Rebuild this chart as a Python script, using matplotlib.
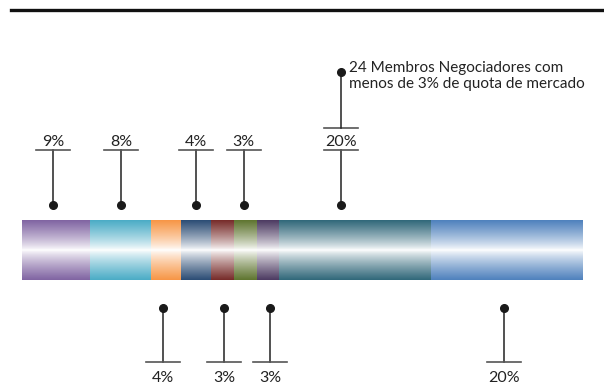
import numpy as np
import matplotlib
matplotlib.use("Agg")
import matplotlib.pyplot as plt
from matplotlib.colors import to_rgb
from matplotlib.lines import Line2D

# market share per segment (left to right)
shares = [9, 8, 4, 4, 3, 3, 3, 20, 20]
labels = ["9%", "8%", "4%", "4%", "3%", "3%", "3%", "20%", "20%"]
colors = ["#8064A2", "#4BACC6", "#F79646", "#2C4D75", "#772C2A",
          "#5F7530", "#4D3B62", "#31687A", "#4F81BD"]
side = ["top", "top", "bottom", "top", "bottom", "top", "bottom", "top", "bottom"]
shift = [-0.4, 0.1, -0.4, 0.0, 0.2, -0.2, 0.3, -1.9, -0.3]  # nudge of the leader from centre
note = "24 Membros Negociadores com\nmenos de 3% de quota de mercado"

plt.rcParams['font.family'] = ['Lato', 'DejaVu Sans']

W, H = 604, 385
fig = plt.figure(figsize=(W / 100, H / 100), dpi=100)
total = sum(shares)
px = 560 / total  # pixels per percent
ax = fig.add_axes([0, 0, 1, 1])
ax.set_xlim(-22 / px, total + (W - 582) / px)
ax.set_ylim(H, 0)
ax.axis("off")

# rule at the top
fig.add_artist(Line2D([11 / W, 1], [1 - 9.5 / H] * 2, color="#111111", lw=2.4))

# gradient bar
ytop, ybot = 220, 280
n = 121
t = np.abs(np.linspace(-1, 1, n))
t = t ** 0.8
left = 0
for s, c, lab, sd, dx in zip(shares, colors, labels, side, shift):
    rgb = np.array(to_rgb(c))
    grad = t[:, None] * rgb[None, :] + (1 - t[:, None]) * np.ones(3)[None, :]
    ax.imshow(grad[:, None, :], extent=[left, left + s, ybot, ytop],
              aspect="auto", interpolation="bilinear", zorder=2)
    xc = left + s / 2 + dx
    hw = 17 / px
    if sd == "top":
        ax.plot([xc, xc], [205, 150], color="#222222", lw=1.1)
        ax.plot([xc - hw, xc + hw], [150, 150], color="#555555", lw=1.2)
        ax.plot(xc, 205, "o", color="#1a1a1a", ms=5.5)
        ax.text(xc, 146, lab, ha="center", va="baseline", fontsize=11.5, color="#222222")
        if s == 20:
            ax.plot([xc - hw, xc + hw], [128, 128], color="#555555", lw=1.2)
            ax.plot([xc, xc], [128, 72], color="#222222", lw=1.1)
            ax.plot(xc, 72, "o", color="#1a1a1a", ms=5.5)
            ax.text(xc + 8 / px, 61, note, ha="left", va="top", fontsize=11,
                    color="#222222", linespacing=1.15)
    else:
        ax.plot([xc, xc], [308, 362], color="#222222", lw=1.1)
        ax.plot([xc - hw, xc + hw], [362, 362], color="#555555", lw=1.2)
        ax.plot(xc, 308, "o", color="#1a1a1a", ms=5.5)
        ax.text(xc, 382, lab, ha="center", va="baseline", fontsize=11.5, color="#222222")
    left += s

fig.savefig("out.png", dpi=100)
